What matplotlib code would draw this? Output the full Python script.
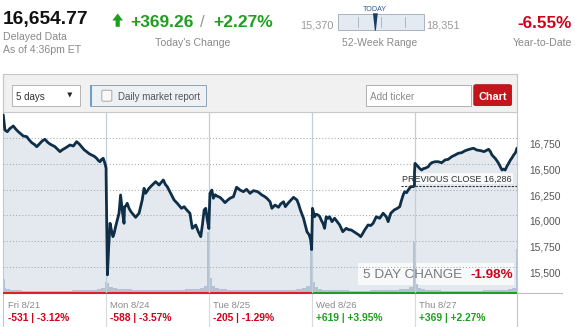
import matplotlib
matplotlib.use("Agg")
import matplotlib.pyplot as plt
import matplotlib.transforms as mtransforms
from matplotlib.patches import Rectangle, Polygon, FancyBboxPatch
from matplotlib.lines import Line2D

plt.rcParams['font.family'] = ['Liberation Sans', 'DejaVu Sans']

# ---------------- data ----------------
index_value = "16,654.77"
change_points = "+369.26"
change_pct = "+2.27%"
ytd_pct = "-6.55%"
week52_low = 15370
week52_high = 18351
last_price = 16654.77
prev_close = 16286
five_day_change = "-1.98%"

days = ["Fri 8/21", "Mon 8/24", "Tue 8/25", "Wed 8/26", "Thu 8/27"]
day_changes = ["-531 | -3.12%", "-588 | -3.57%", "-205 | -1.29%",
               "+619 | +3.95%", "+369 | +2.27%"]
day_up = [False, False, False, True, True]

# (minute of session, index level)
fri = [(0, 16977), (6, 16831), (15, 16814), (25, 16845), (38, 16870), (47, 16840),
       (57, 16814), (68, 16790), (76, 16772), (89, 16766), (98, 16735), (108, 16707),
       (118, 16690), (127, 16668), (139, 16701), (148, 16725), (158, 16740), (168, 16712),
       (177, 16694), (187, 16680), (196, 16668), (205, 16645), (215, 16620), (225, 16640),
       (234, 16653), (244, 16670), (253, 16685), (266, 16675), (278, 16717), (288, 16695),
       (297, 16668), (306, 16640), (316, 16620), (326, 16600), (335, 16587), (345, 16575),
       (354, 16555), (362, 16530), (367, 16522), (373, 16545), (379, 16555), (385, 16510),
       (390, 16460)]
mon = [(0, 16400), (5, 15420), (10, 15700), (15, 15922), (20, 15857), (26, 15792),
       (31, 15830), (36, 15889), (43, 15960), (49, 16020), (55, 16198), (61, 16052),
       (68, 15922), (70, 16084), (75, 16090), (80, 16117), (87, 16068), (93, 16040),
       (99, 16020), (112, 15980), (125, 16020), (137, 16149), (144, 16263), (150, 16214),
       (157, 16240), (163, 16263), (175, 16295), (188, 16327), (201, 16295), (209, 16320),
       (217, 16344), (225, 16300), (232, 16279), (245, 16214), (258, 16149), (270, 16117),
       (286, 16068), (296, 16084), (306, 16052), (318, 16020), (327, 15873), (340, 15905),
       (350, 15840), (359, 15792), (365, 15900), (372, 16052), (378, 16068), (384, 15954),
       (390, 15871)]
tue = [(0, 15900), (4, 16214), (11, 16246), (17, 16166), (24, 16200), (30, 16188),
       (42, 16175), (52, 16150), (61, 16123), (70, 16145), (80, 16166), (93, 16181),
       (105, 16273), (112, 16260), (118, 16246), (131, 16230), (143, 16253), (156, 16214),
       (169, 16240), (185, 16230), (201, 16198), (210, 16185), (220, 16166), (232, 16132),
       (239, 16068), (251, 16100), (264, 16078), (272, 16110), (283, 16132), (290, 16084),
       (302, 16123), (312, 16150), (321, 16175), (334, 16149), (340, 16110), (347, 16052),
       (353, 16010), (359, 15971), (366, 15900), (372, 15840), (381, 15808), (386, 15760),
       (390, 15666)]
wed = [(0, 15700), (3, 16068), (11, 15986), (17, 16010), (24, 16003), (30, 15990),
       (36, 15954), (43, 15920), (49, 15873), (55, 15986), (62, 15970), (68, 15986),
       (77, 15938), (87, 15971), (96, 15940), (106, 15906), (118, 15840), (131, 15873),
       (140, 15860), (150, 15857), (160, 15840), (169, 15825), (178, 15810), (186, 15792),
       (193, 15820), (201, 15857), (214, 15906), (224, 15900), (233, 15922), (245, 15986),
       (258, 15971), (271, 16020), (283, 15986), (290, 15938), (300, 16020), (313, 16052),
       (325, 16068), (334, 16084), (340, 16140), (347, 16198), (353, 16230), (360, 16220),
       (366, 16246), (376, 16279), (385, 16279), (390, 16286)]
thu = [(0, 16420), (2, 16506), (8, 16490), (14, 16473), (20, 16455), (27, 16441),
       (34, 16455), (40, 16458), (52, 16473), (58, 16495), (65, 16512), (78, 16522),
       (90, 16522), (103, 16512), (116, 16539), (128, 16545), (141, 16571), (154, 16587),
       (166, 16604), (179, 16610), (192, 16629), (208, 16643), (224, 16653), (236, 16636),
       (252, 16629), (264, 16620), (281, 16643), (288, 16620), (294, 16587), (306, 16555),
       (313, 16530), (319, 16506), (326, 16470), (332, 16441), (338, 16450), (344, 16441),
       (351, 16480), (357, 16506), (364, 16539), (370, 16560), (376, 16587), (383, 16610),
       (389, 16655)]

# volume (millions of shares), step bins starting at these session minutes
vol_min = [0, 5, 12, 25, 40, 70, 100, 140, 180, 220, 260, 300, 330, 355, 370, 384]
fri_vol = [13, 4, 3, 2, 2, 1.5, 1.5, 1.5, 1.5, 1.5, 2, 2, 2.5, 3, 4, 10]
mon_vol = [20, 9, 5, 4, 3, 3, 2.5, 2.5, 2.5, 2.5, 2.5, 3, 3, 4, 6, 60]
tue_vol = [55, 14, 6, 4, 3, 2.5, 2, 2, 2, 2, 2, 2.5, 3, 4, 6, 43]
wed_vol = [40, 10, 5, 3, 2.5, 2, 2, 1.5, 1.5, 2, 2, 2.5, 3, 3.5, 5, 50]
thu_vol = [45, 8, 4, 3, 2, 2, 1.5, 1.5, 1.5, 1.5, 2, 2, 2.5, 3, 4, 43]

y_ticks = [15500, 15750, 16000, 16250, 16500, 16750]
y_tick_labels = ["15,500", "15,750", "16,000", "16,250", "16,500", "16,750"]

# ---------------- layout ----------------
W, H, DPI = 575, 327, 100
SESSION = 390
RED = '#d0021b'
GREEN = '#1f9e1f'
GRAY = '#8a8a8a'

fig = plt.figure(figsize=(W / DPI, H / DPI), dpi=DPI, facecolor='white')


def P(x, y):
    return (x / W, 1 - y / H)


def rect(x0, y0, x1, y1, **kw):
    fig.add_artist(Rectangle(P(x0, y1), (x1 - x0) / W, (y1 - y0) / H,
                             transform=fig.transFigure, **kw))


def line(xs, ys, **kw):
    fig.add_artist(Line2D([x / W for x in xs], [1 - y / H for y in ys],
                          transform=fig.transFigure, **kw))


def txt(x, y, s, **kw):
    fig.text(x / W, 1 - y / H, s, **kw)


# ---------- header ----------
txt(3, 24, index_value, fontsize=13.8, weight='bold', color='#111111', va='baseline')
txt(3, 39.5, "Delayed Data", fontsize=7.6, color=GRAY, va='baseline')
txt(3, 53.3, "As of 4:36pm ET", fontsize=7.6, color=GRAY, va='baseline')

fig.add_artist(Polygon([P(117.7, 13.5), P(123, 20.5), P(119.8, 20.5), P(119.8, 26.8),
                        P(115.6, 26.8), P(115.6, 20.5), P(112.4, 20.5)],
                       closed=True, transform=fig.transFigure, facecolor=GREEN,
                       edgecolor='none'))
txt(130, 27.3, change_points, fontsize=12.5, weight='bold', color=GREEN, va='baseline')
txt(202.5, 27.3, "/", fontsize=12, color='#999999', va='baseline', ha='center')
txt(213, 27.3, change_pct, fontsize=12.5, weight='bold', color=GREEN, va='baseline')
txt(192.5, 46, "Today's Change", fontsize=7.6, color=GRAY, va='baseline', ha='center')

# 52-week range
txt(333.5, 28, f"{week52_low:,}", fontsize=7.8, color='#999999', va='baseline', ha='right')
txt(426, 28, f"{week52_high:,}", fontsize=7.8, color='#999999', va='baseline', ha='left')
bx0, bx1 = 338.3, 424.3
rect(bx0, 14, bx1, 30, facecolor='#e4eaf1', edgecolor='#a9b3be', linewidth=0.7)
for tx in (358.3, 380.7, 405):
    line([tx, tx], [17, 27], color='#a7afb8', linewidth=0.6)
mx = bx0 + (last_price - week52_low) / (week52_high - week52_low) * (bx1 - bx0)
fig.add_artist(Polygon([P(mx - 2.4, 13.3), P(mx + 2.4, 13.3), P(mx + 0.5, 30.7),
                        P(mx - 0.5, 30.7)], closed=True, transform=fig.transFigure,
                       facecolor='#1b3c63', edgecolor='none'))
txt(mx, 10.7, "TODAY", fontsize=5.1, color='#2d5b8a', va='baseline', ha='center')
txt(380, 46, "52-Week Range", fontsize=7.5, color=GRAY, va='baseline', ha='center')

# YTD
txt(572, 28.3, ytd_pct, fontsize=12.3, weight='bold', color=RED, va='baseline', ha='right')
txt(572, 46, "Year-to-Date", fontsize=7.6, color=GRAY, va='baseline', ha='right')

# ---------- toolbar ----------
rect(3, 74.4, 517, 111.8, facecolor='#f1f1f1', edgecolor='#c8c8c8', linewidth=0.8)
rect(12.1, 84.7, 80, 105.6, facecolor='white', edgecolor='#b5b5b5', linewidth=0.7)
txt(16.5, 99.5, "5 days", fontsize=7, color='#333333', va='baseline')
fig.add_artist(Polygon([P(67.3, 92.5), P(72.3, 92.5), P(69.8, 97.5)], closed=True,
                       transform=fig.transFigure, facecolor='#222222', edgecolor='none'))
rect(89.8, 84.7, 206, 105.6, facecolor='#eef1f4', edgecolor='#8ea3b8', linewidth=0.7)
rect(89.8, 84.7, 92.4, 105.6, facecolor='#6aa0cf', edgecolor='none')
fig.add_artist(FancyBboxPatch(P(101.8, 101.2), 10 / W, 11 / H,
                              boxstyle="round,pad=0,rounding_size=0.003",
                              transform=fig.transFigure, facecolor='#f8f8f8',
                              edgecolor='#a8a8a8', linewidth=0.7))
txt(118, 99.5, "Daily market report", fontsize=7, color='#555555', va='baseline')
rect(366, 85.4, 470.5, 105.6, facecolor='white', edgecolor='#b0b0b0', linewidth=0.7)
txt(369.5, 99.5, "Add ticker", fontsize=7.2, color='#8c8c8c', va='baseline')
fig.add_artist(FancyBboxPatch(P(473.8, 105.6), (511.5 - 473.8) / W, (105.6 - 84.7) / H,
                              boxstyle="round,pad=0,rounding_size=0.004",
                              transform=fig.transFigure, facecolor='#c3161c',
                              edgecolor='#a81218', linewidth=0.6))
txt(492.6, 99.5, "Chart", fontsize=7.8, weight='bold', color='white', va='baseline',
    ha='center')

# ---------- chart ----------
AX0, AX1, AY0, AY1 = 3.3, 517.3, 111.8, 292.5
pos = [AX0 / W, 1 - AY1 / H, (AX1 - AX0) / W, (AY1 - AY0) / H]
YMIN, YMAX = 15248, 17008
day_pairs = [fri, mon, tue, wed, thu]
day_vols = [fri_vol, mon_vol, tue_vol, wed_vol, thu_vol]

xs, ys = [], []
for i, d in enumerate(day_pairs):
    for m, v in d:
        xs.append(i * SESSION + m)
        ys.append(v)

vx, vy = [], []
for i, vol in enumerate(day_vols):
    for m, v in zip(vol_min, vol):
        vx.append(i * SESSION + m)
        vy.append(v)
    vx.append(i * SESSION + SESSION)
    vy.append(vol[-1])

ax_fill = fig.add_axes(pos, zorder=0)
ax_vol = fig.add_axes(pos, zorder=1)
ax = fig.add_axes(pos, zorder=2)
for a in (ax_fill, ax_vol, ax):
    a.set_xlim(0, 5 * SESSION)
    a.set_axis_off()
    a.patch.set_alpha(0)
ax_fill.set_ylim(YMIN, YMAX)
ax.set_ylim(YMIN, YMAX)
ax_vol.set_ylim(0, 180.7)

ax_fill.fill_between(xs, ys, YMIN, color='#e3e9ef', linewidth=0)
ax_vol.fill_between(vx, vy, 0, step='post', color='#b3c3d3', linewidth=0)

for t in y_ticks:
    ax.axhline(t, color='#a9a9a9', linewidth=0.75, linestyle=(0, (1, 2)), zorder=1)
for i in range(1, 5):
    ax.axvline(i * SESSION, color='#c3ced9', linewidth=0.9, zorder=1)
ax.plot(xs, ys, color='#0f2e48', linewidth=2.0, solid_joinstyle='round',
        solid_capstyle='round', zorder=3)

# y labels on the right, drawn just below each grid line
lab_tr = mtransforms.blended_transform_factory(fig.transFigure, ax.transData) + \
    mtransforms.ScaledTranslation(0, -9.4 / DPI, fig.dpi_scale_trans)
for t, lab in zip(y_ticks, y_tick_labels):
    ax.text(529 / W, t, lab, transform=lab_tr, fontsize=7.4, color='#555555',
            va='baseline', ha='left', clip_on=False)

# previous close
pc_x0 = (401 - AX0) / (AX1 - AX0) * 5 * SESSION
ax.plot([pc_x0, 5 * SESSION], [prev_close, prev_close], color='#333333',
        linewidth=0.8, linestyle=(0, (2, 1.2)), zorder=4)
rect(400.5, 173.3, 512.7, 184.3, facecolor='white', alpha=0.75, edgecolor='none')
txt(401.5, 182.3, f"PREVIOUS CLOSE {prev_close:,}", fontsize=6.5, color='#333333',
    va='baseline')

# 5 day change
rect(358.3, 262.7, 514, 285, facecolor='white', alpha=0.75, edgecolor='none')
txt(362.7, 277.7, "5 DAY CHANGE", fontsize=9.7, color='#7a7a7a', va='baseline')
txt(512.7, 277.7, five_day_change, fontsize=9.7, weight='bold', color=RED,
    va='baseline', ha='right')

# ---------- bottom row ----------
line([AX1, 562], [293, 293], color='#bdbdbd', linewidth=0.8)
line([3, 3], [74.4, 327], color='#c8c8c8', linewidth=0.8)
line([517, 517], [74.4, 327], color='#c8c8c8', linewidth=0.8)
col_w = (AX1 - AX0) / 5
for i in range(5):
    x0 = AX0 + i * col_w
    if i > 0:
        line([x0, x0], [293, 327], color='#dadada', linewidth=0.8)
    line([x0, x0 + col_w], [292.6, 292.6], color=GREEN if day_up[i] else '#e02020',
         linewidth=1.5, solid_capstyle='butt')
    txt(x0 + 4.2, 308.3, days[i], fontsize=6.8, color=GRAY, va='baseline')
    txt(x0 + 4.2, 321, day_changes[i], fontsize=7.4, weight='bold',
        color=GREEN if day_up[i] else RED, va='baseline')

fig.savefig("out.png", dpi=DPI, facecolor='white')
